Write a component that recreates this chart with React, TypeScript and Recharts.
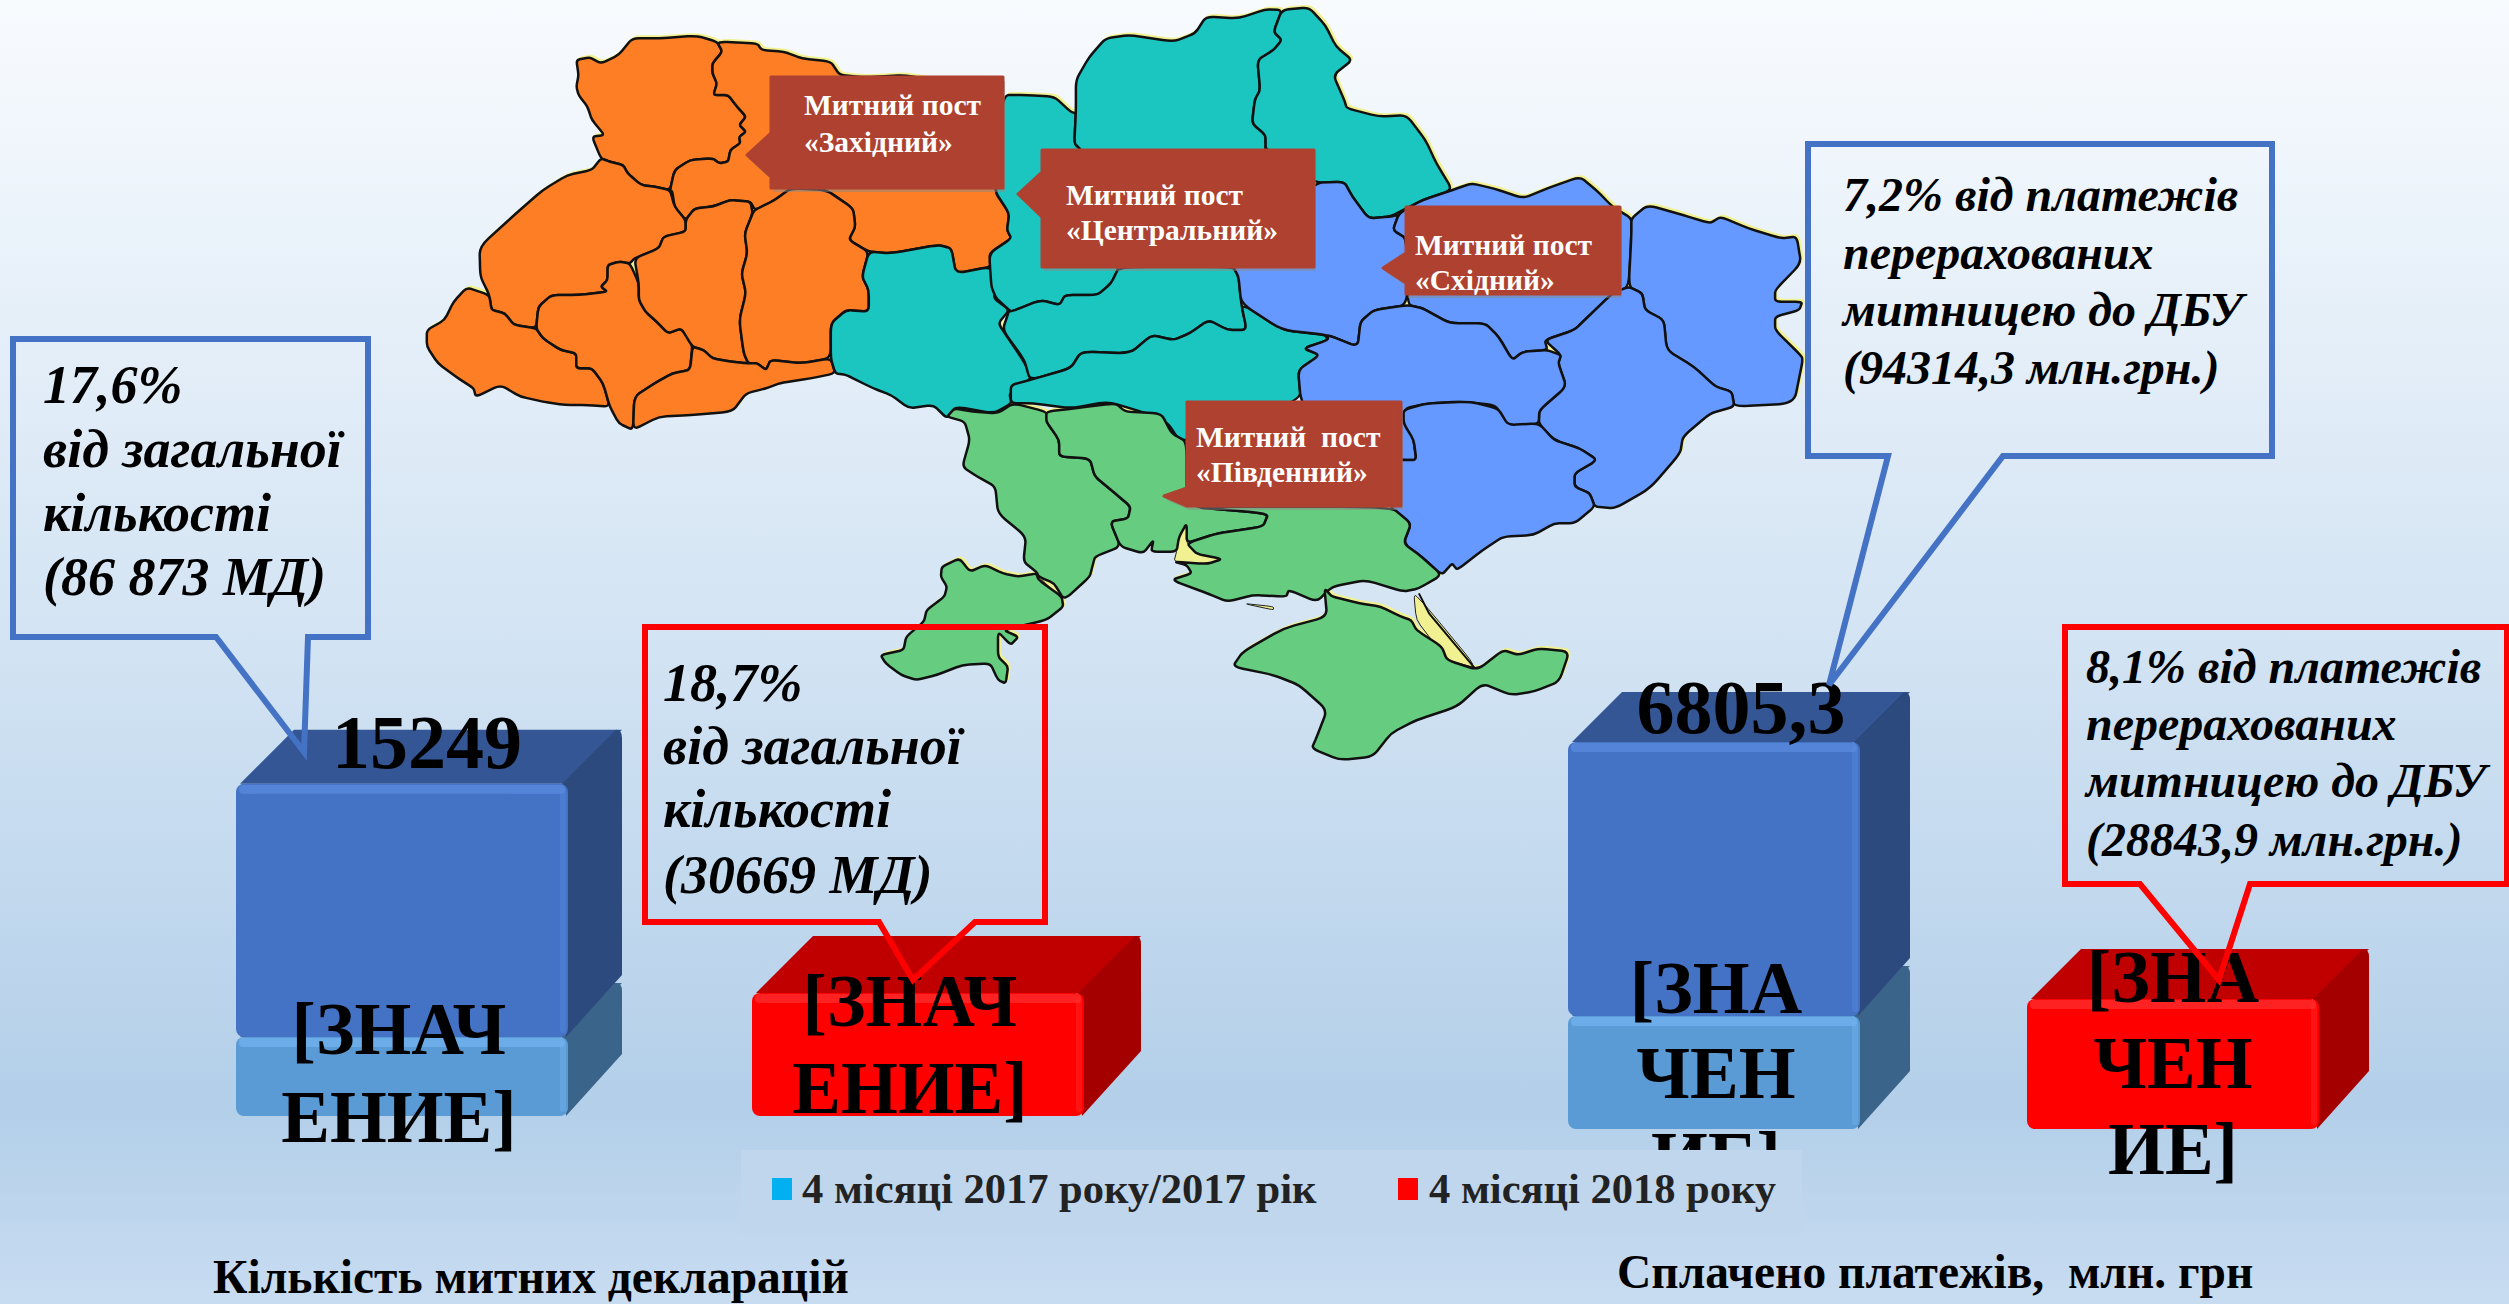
import React from "react";
import { BarChart, Bar, XAxis, YAxis, LabelList } from "recharts";

const W = 2509;
const H = 1304;
const SERIF = "'Liberation Serif', serif";

// --- chart data
const categories = ["4 місяці 2017 року/2017 рік", "4 місяці 2018 року"];
const legendColors = ["#00b0f0", "#ff0000"];

const declLower = [4760, 0];
const declUpper = [15249, 0];
const declRed = [0, 7410];

const payLower = [2810, 0];
const payUpper = [6805.3, 0];
const payRed = [0, 3230];

const declLowerLabel = ["[ЗНАЧ", "ЕНИЕ]"];
const declUpperLabel = ["15249"];
const declRedLabel = ["[ЗНАЧ", "ЕНИЕ]"];
const payLowerLabel = ["[ЗНА", "ЧЕН", "ИЕ]"];
const payUpperLabel = ["6805,3"];
const payRedLabel = ["[ЗНА", "ЧЕН", "ИЕ]"];

const declTitle = "Кількість митних декларацій";
const payTitle = "Сплачено платежів,  млн. грн";

const declRows = categories.map((name, i) => ({
  name,
  lower: declLower[i],
  upper: declUpper[i],
  red: declRed[i],
}));
const payRows = categories.map((name, i) => ({
  name,
  lower: payLower[i],
  upper: payUpper[i],
  red: payRed[i],
}));

// 3d box colours: front, side, top, highlight
const lightBlue = ["#5b9bd5", "#3a6489", "#3f6d95", "#74b3ef"];
const darkBlue = ["#4472c4", "#2c4a7e", "#345694", "#5b8be0"];
const red = ["#ff0000", "#a50000", "#c00000", "#ff3030"];

// the bars are drawn as boxes, like the 3d chart in the slide
const box = (colors: string[], depth: number) => (props: any) => {
  const { x, y, width, height } = props;
  if (!height || height <= 0) return <g />;
  const [front, side, top, light] = colors;
  const r = 8;
  return (
    <g>
      <polygon
        points={`${x + 4},${y} ${x + depth + 4},${y - depth} ${x + width + depth},${y - depth} ${x + width},${y}`}
        fill={top}
      />
      <path
        d={`M${x + width - 6},${y} L${x + width + depth - 6},${y - depth} Q${x + width + depth},${y - depth} ${x + width + depth},${y - depth + 8} L${x + width + depth},${y + height - depth - 8} L${x + width - 2},${y + height} Z`}
        fill={side}
      />
      <rect x={x} y={y} width={width} height={height} rx={r} fill={front} />
      <rect x={x + 3} y={y + 1} width={width - 6} height={9} rx={4} fill={light} opacity={0.7} />
      <rect x={x + width - 8} y={y + 4} width={6} height={height - 8} rx={3} fill={light} opacity={0.4} />
    </g>
  );
};

// data label split over lines the way the slide wraps it
const wrapped = (lines: string[], dx: number, first: number, step: number, size = 73) => (props: any) => {
  const { x, y, width, height } = props;
  if (!height || height <= 0) return null;
  return (
    <text textAnchor="middle" fontFamily={SERIF} fontWeight="bold" fontSize={size} fill="#000">
      {lines.map((line, i) => (
        <tspan key={line} x={x + width / 2 + dx} y={y + first + i * step}>
          {line}
        </tspan>
      ))}
    </text>
  );
};

// --- map. z3/z4/z5 are the crops the points were read in
const parse = (s: string) => s.split(" ").map((p) => p.split(",").map(Number));

const z3 = (s: string) => parse(s).map(([a, b]) => [a / 2.24 + 400, b / 3]);
const z4 = (s: string) => parse(s).map(([a, b]) => [a / 1.845 + 1000, b / 3]);
const z5 = (s: string) => parse(s).map(([a, b]) => [a / 1.96 + 850, b / 3 + 380]);

// only the corners get rounded, so the borders stay close to the traced points
const smooth = (pts: number[][]) => {
  const along = (a: number[], b: number[], t: number) =>
    `${(a[0] + (b[0] - a[0]) * t).toFixed(1)},${(a[1] + (b[1] - a[1]) * t).toFixed(1)}`;
  let d = `M${along(pts[pts.length - 1], pts[0], 0.75)}`;
  pts.forEach((p, i) => {
    const next = pts[(i + 1) % pts.length];
    d += ` Q${p[0].toFixed(1)},${p[1].toFixed(1)} ${along(p, next, 0.25)} L${along(p, next, 0.75)}`;
  });
  return d + " Z";
};

const orange = [
  "395,180 425,172 450,190 490,165 520,115 580,115 665,107 710,125 722,155 700,190 700,220 710,250 702,285 735,285 755,320 775,350 760,375 775,395 760,410 762,430 740,450 735,485 715,490 700,475 650,480 615,510 605,570 570,560 540,555 510,520 500,495 470,485 450,475 430,410 458,405 430,360 420,320 400,285 395,260 400,225",
  "710,125 800,130 810,150 860,155 900,175 965,185 985,225 1040,232 1140,225 1348,290 1330,570 1365,640 1360,690 1370,715 1320,760 1325,800 1245,820 1235,745 1205,735 1100,760 1050,755 1005,720 1020,680 1015,625 955,570 875,565 840,600 795,630 785,605 740,600 700,620 660,625 640,660 615,620 610,575 605,570 615,510 650,480 700,475 715,490 735,485 740,450 762,430 760,410 775,395 760,375 775,350 755,320 735,285 702,285 710,250 700,220 700,190 722,155",
  "450,475 470,485 500,495 510,520 540,555 570,560 605,570 615,620 640,660 640,695 590,710 580,745 525,775 515,790 490,785 465,795 465,840 450,860 465,875 400,885 340,885 310,920 305,985 255,975 235,940 205,930 200,885 180,830 178,740 260,640 320,570 375,525 430,510",
  "150,862 200,885 205,930 235,940 255,975 305,985 320,1015 360,1050 395,1060 395,1105 430,1105 455,1150 470,1220 420,1215 370,1215 320,1205 270,1190 225,1155 170,1190 165,1165 125,1130 85,1090 60,1040 60,990 100,960 120,905",
  "305,985 310,920 340,885 400,885 465,875 450,860 465,840 465,795 490,785 515,790 535,850 535,900 550,935 575,965 600,1000 630,985 655,1030 650,1110 610,1120 570,1150 525,1190 522,1290 490,1270 470,1220 455,1150 430,1105 395,1105 395,1060 360,1050 320,1015",
  "525,775 580,745 590,710 640,695 640,660 660,625 700,620 740,600 785,605 790,640 772,700 778,760 765,820 775,880 760,960 770,1060 780,1090 740,1085 700,1075 680,1050 655,1040 630,985 600,1000 575,965 550,935 535,900 535,850",
  "790,640 795,630 840,600 875,565 955,570 1015,625 1020,680 1005,720 1050,755 1035,830 1050,870 1050,935 1000,930 965,970 965,1075 900,1090 830,1080 820,1110 800,1090 780,1090 770,1060 760,960 775,880 765,820 778,760 772,700",
  "655,1040 680,1050 700,1075 740,1085 780,1090 800,1090 820,1110 830,1080 900,1090 965,1075 975,1120 920,1135 850,1150 820,1165 775,1180 745,1235 650,1245 580,1250 522,1290 525,1190 570,1150 610,1120 650,1110",
].map(z3);

const teal = [
  z3("1050,755 1100,760 1205,735 1235,745 1245,820 1325,800 1335,860 1330,895 1365,930 1340,970 1365,1020 1400,1090 1415,1135 1365,1180 1370,1210 1330,1240 1245,1220 1225,1255 1195,1215 1140,1225 1100,1185 1060,1165 1000,1125 975,1120 965,1075 965,970 1000,930 1050,935 1050,870 1035,830"),
  z4("5,285 50,285 100,290 130,335 140,340 137,430 150,450 220,800 205,850 180,885 120,885 110,915 75,900 20,935 17,930 -7,895 -16,860 -20,760 21,715 13,690 17,640 -11,570"),
  z4("140,335 140,240 165,170 195,115 240,105 320,125 360,100 380,50 440,55 490,28 520,30 505,95 520,120 505,150 475,180 480,270 470,300 465,370 490,405 490,450 430,800 220,800 150,450 137,430"),
  z4("520,30 570,22 600,75 620,140 650,180 615,225 635,300 640,325 700,350 750,345 785,420 805,490 835,570 780,600 750,625 720,650 680,655 650,590 635,545 580,548 490,450 490,405 465,370 470,300 480,270 475,180 505,150 520,120 505,95"),
  z4("20,935 75,900 110,915 120,885 180,885 205,850 220,800 430,800 440,830 445,910 455,990 420,990 385,960 350,1000 320,1020 280,1005 240,1060 150,1055 130,1105 55,1140 45,1080 5,990 17,930"),
  z4("55,1140 130,1105 150,1055 240,1060 280,1005 320,1020 350,1000 385,960 420,990 455,990 445,910 520,990 600,1005 605,1020 560,1045 590,1065 550,1110 555,1200 345,1320 330,1320 310,1270 270,1240 200,1205 130,1225 60,1210 20,1210 20,1155"),
];

const blue = [
  z4("580,548 635,545 650,590 680,655 720,650 735,645 725,690 750,715 752,915 690,930 665,965 660,1040 605,1005 520,990 445,910 440,830 430,800"),
  z4("735,645 750,625 780,600 835,570 870,550 910,565 965,595 1010,565 1070,530 1100,570 1130,620 1165,655 1165,700 1160,860 1130,880 1085,950 1060,990 1005,1020 1010,1050 965,1055 945,1080 920,1010 895,970 830,970 780,925 752,915 750,715 725,690"),
  z4("1165,655 1195,615 1260,645 1310,670 1330,650 1380,685 1440,715 1470,710 1478,790 1430,870 1430,905 1480,905 1475,930 1430,950 1430,990 1480,1070 1480,1090 1465,1210 1355,1220 1350,1175 1320,1160 1280,1100 1230,1050 1225,960 1190,930 1185,880 1160,860 1165,700"),
  z4("1160,860 1185,880 1190,930 1225,960 1230,1050 1280,1100 1320,1160 1350,1175 1355,1220 1310,1240 1260,1310 1255,1360 1199,1465 1135,1525 1097,1520 1088,1480 1060,1460 1060,1420 1102,1380 1069,1345 1022,1320 994,1270 995,1230 1045,1160 1030,1090 1035,1065 1005,1020 1060,990 1085,950 1130,880"),
  z4("660,1040 665,965 690,930 752,915 780,925 830,970 895,970 920,1010 945,1080 965,1055 1010,1050 1035,1065 1030,1090 1045,1160 995,1230 994,1270 960,1280 930,1270 915,1215 850,1205 790,1210 745,1225 763,1320 768,1380 745,1380 600,1350 555,1200 550,1110 590,1065 560,1045 605,1020 605,1005"),
  z5("1085,90 1130,70 1215,65 1270,85 1290,135 1350,130 1380,180 1430,205 1465,240 1420,280 1420,320 1450,340 1460,380 1420,430 1380,430 1340,465 1280,470 1240,510 1190,570 1180,550 1160,585 1120,530 1085,490 1100,430 1060,390 1060,240 1085,240 1110,240 1105,180 1085,130"),
];

const green = [
  "190,110 205,85 240,95 290,100 320,70 385,95 385,125 410,180 410,230 470,235 480,290 520,340 550,380 545,415 510,425 530,500 480,530 475,560 470,590 420,660 400,610 370,590 365,575 340,545 345,470 290,400 285,320 250,290 220,260 235,180 225,125",
  "180,560 215,535 235,575 265,555 300,580 330,590 365,580 370,600 415,650 418,680 385,720 300,750 330,770 315,795 290,755 290,830 310,860 305,910 290,900 275,850 220,855 170,885 130,900 100,885 70,850 60,825 105,810 110,770 145,725 150,690 185,650 190,620 178,590",
  "385,95 440,85 520,70 540,95 610,100 630,160 660,185 660,380 820,400 810,440 720,460 660,490 660,430 645,470 640,515 590,515 595,480 575,520 530,500 510,425 545,415 550,380 520,340 480,290 470,235 410,230 410,180 385,125",
  "660,380 1060,380 1100,430 1085,490 1120,530 1160,585 1115,625 1085,635 1010,600 945,620 915,665 860,630 855,650 790,645 740,665 700,640 630,600 670,580 660,555 635,545 700,552 730,537 680,522 660,490 720,460 810,440 820,400",
  "930,625 945,650 1000,670 1040,680 1080,710 1100,720 1110,750 1160,800 1170,840 1230,870 1280,810 1310,825 1350,805 1410,815 1390,905 1340,935 1295,945 1240,910 1190,980 1110,1020 1060,1060 1025,1130 960,1140 905,1105 915,1070 935,990 880,915 830,885 750,860 770,815 850,745 935,710",
].map(z5);

const sand = [
  "660,430 645,470 640,515 635,545 700,552 730,537 680,522 660,490",
  "1105,640 1130,680 1230,865 1170,840 1140,780 1110,720",
  "370,590 400,590 415,640 410,650",
  "770,670 830,680 830,690",
].map(z5);

// thin spit along the Azov side of Crimea
const spit = z5("1115,640 1135,700 1225,865").map((p) => p.join(",")).join(" ");

const regionGroups = [
  { fill: "#fd7e24", shapes: orange },
  { fill: "#1cc6c0", shapes: teal },
  { fill: "#6699ff", shapes: blue },
  { fill: "#66cc7f", shapes: green },
];

// --- notes on top of the chart
const posts = [
  { box: [771, 77, 232, 111], tip: [747, 155], notch: [133, 177], tx: 804, lines: ["Митний пост", "«Західний»"], base: [115, 152] },
  { box: [1042, 150, 272, 117], tip: [1018, 194], notch: [172, 217], tx: 1066, lines: ["Митний пост", "«Центральний»"], base: [205, 240] },
  { box: [1406, 207, 214, 87], tip: [1383, 268], notch: [253, 283], tx: 1415, lines: ["Митний пост", "«Східний»"], base: [255, 290] },
  { box: [1187, 402, 214, 104], tip: [1164, 496], notch: [488, 506], tx: 1196, lines: ["Митний  пост", "«Південний»"], base: [447, 482] },
];

const callouts = [
  {
    color: "#4472c4",
    path: "M13,339 L368,339 L368,637 L308,637 L304,752 L216,637 L13,637 Z",
    x: 43,
    size: 54,
    lines: ["17,6%", "від загальної", "кількості", "(86 873 МД)"],
    base: [403, 467, 531, 595],
  },
  {
    color: "#ff0000",
    path: "M645,627 L1045,627 L1045,922 L975,922 L913,980 L879,922 L645,922 Z",
    x: 663,
    size: 54,
    lines: ["18,7%", "від загальної", "кількості", "(30669 МД)"],
    base: [701, 764, 827, 893],
  },
  {
    color: "#4472c4",
    path: "M1808,144 L2272,144 L2272,456 L2003,456 L1829,685 L1888,456 L1808,456 Z",
    x: 1843,
    size: 48,
    lines: ["7,2% від платежів", "перерахованих", "митницею до ДБУ", "(94314,3 млн.грн.)"],
    base: [211, 269, 326, 384],
  },
  {
    color: "#ff0000",
    path: "M2065,627 L2507,627 L2507,884 L2250,884 L2219,980 L2140,884 L2065,884 Z",
    x: 2086,
    size: 48,
    lines: ["8,1% від платежів", "перерахованих", "митницею до ДБУ", "(28843,9 млн.грн.)"],
    base: [683, 740, 797, 856],
  },
];

const layer: React.CSSProperties = { position: "absolute", left: 0, top: 0 };

const MapLayer = () => (
  <svg width={W} height={H} style={layer}>
    {regionGroups.map((g) =>
      g.shapes.map((pts, i) => (
        <path key={g.fill + i} d={smooth(pts)} transform="translate(2,-2)" fill="#f1f191" stroke="#f1f191" strokeWidth={2} />
      ))
    )}
    {sand.map((pts, i) => (
      <path key={i} d={smooth(pts)} fill="#f1f191" stroke="#222" strokeWidth={1} />
    ))}
    {regionGroups.map((g) =>
      g.shapes.map((pts, i) => (
        <path key={g.fill + i} d={smooth(pts)} fill={g.fill} stroke="#111" strokeWidth={2.5} strokeLinejoin="round" />
      ))
    )}
    <polyline points={spit} fill="none" stroke="#111" strokeWidth={2} />
    {posts.map((p) => {
      const [x, y, w, h] = p.box;
      const outline = `${x},${y} ${x + w},${y} ${x + w},${y + h} ${x},${y + h} ${x},${p.notch[1]} ${p.tip[0]},${p.tip[1]} ${x},${p.notch[0]}`;
      return (
        <g key={p.lines[1]}>
          <polygon points={outline} fill="#8a8a8a" opacity={0.5} transform="translate(2,4)" />
          <polygon points={outline} fill="#ae4130" stroke="#ae4130" strokeWidth={3} strokeLinejoin="round" />
          {p.lines.map((t, i) => (
            <text key={t} x={p.tx} y={p.base[i]} fontFamily={SERIF} fontWeight="bold" fontSize={29.5} fill="#fff" style={{ whiteSpace: "pre" }}>
              {t}
            </text>
          ))}
        </g>
      );
    })}
  </svg>
);

const NotesLayer = () => (
  <svg width={W} height={H} style={layer}>
    {callouts.map((c) => (
      <g key={c.lines[0]}>
        <path d={c.path} fill="none" stroke={c.color} strokeWidth={6} />
        {c.lines.map((t, i) => (
          <text key={t} x={c.x} y={c.base[i]} fontFamily={SERIF} fontWeight="bold" fontStyle="italic" fontSize={c.size} fill="#000">
            {t}
          </text>
        ))}
      </g>
    ))}
    <text x={213} y={1293} fontFamily={SERIF} fontWeight="bold" fontSize={47.5} fill="#000">
      {declTitle}
    </text>
    <text x={1617} y={1288} fontFamily={SERIF} fontWeight="bold" fontSize={47.5} fill="#000" style={{ whiteSpace: "pre" }}>
      {payTitle}
    </text>
  </svg>
);

const LegendPanel = () => (
  <div style={{ position: "absolute", left: 741, top: 1150, width: 1061, height: 83, background: "#c0d6ec" }}>
    <svg width={1061} height={83}>
      {categories.map((c, i) => (
        <g key={c}>
          <rect x={i === 0 ? 31 : 657} y={28} width={20} height={22} fill={legendColors[i]} />
          <text x={i === 0 ? 61 : 688} y={53} fontFamily={SERIF} fontWeight="bold" fontSize={42.5} fill="#222">
            {c}
          </text>
        </g>
      ))}
    </svg>
  </div>
);

export default function App() {
  return (
    <div
      style={{
        position: "absolute",
        left: 0,
        top: 0,
        width: W,
        height: H,
        overflow: "hidden",
        background: "linear-gradient(180deg, #f8fbfe 0%, #d2e3f3 50%, #b3cfe9 85%, #c8dcf1 100%)",
      }}
    >
      <MapLayer />
      <div style={layer}>
        <BarChart
          width={W}
          height={H}
          data={declRows}
          barSize={332}
          barCategoryGap={0}
          margin={{ left: 144, right: 1333, top: 701, bottom: 188 }}
        >
          <XAxis dataKey="name" hide />
          <YAxis domain={[0, 25000]} hide />
          <Bar dataKey="lower" stackId="a" isAnimationActive={false} shape={box(lightBlue, 54)}>
            <LabelList content={wrapped(declLowerLabel, -3, 17, 88)} />
          </Bar>
          <Bar dataKey="upper" stackId="a" isAnimationActive={false} shape={box(darkBlue, 54)}>
            <LabelList content={wrapped(declUpperLabel, 25, -16, 88, 76)} />
          </Bar>
          <Bar dataKey="red" stackId="a" isAnimationActive={false} shape={box(red, 57)}>
            <LabelList content={wrapped(declRedLabel, -8, 33, 87)} />
          </Bar>
        </BarChart>
      </div>
      <div style={layer}>
        <BarChart
          width={W}
          height={H}
          data={payRows}
          barSize={292}
          barCategoryGap={0}
          margin={{ left: 1484, right: 107, top: 646, bottom: 175 }}
        >
          <XAxis dataKey="name" hide />
          <YAxis domain={[0, 12000]} hide />
          <Bar dataKey="lower" stackId="a" isAnimationActive={false} shape={box(lightBlue, 50)}>
            <LabelList content={wrapped(payLowerLabel, 2, -3, 85)} />
          </Bar>
          <Bar dataKey="upper" stackId="a" isAnimationActive={false} shape={box(darkBlue, 50)}>
            <LabelList content={wrapped(payUpperLabel, 27, -9, 85, 76)} />
          </Bar>
          <Bar dataKey="red" stackId="a" isAnimationActive={false} shape={box(red, 50)}>
            <LabelList content={wrapped(payRedLabel, 0, 3, 86)} />
          </Bar>
        </BarChart>
      </div>
      <LegendPanel />
      <NotesLayer />
    </div>
  );
}
